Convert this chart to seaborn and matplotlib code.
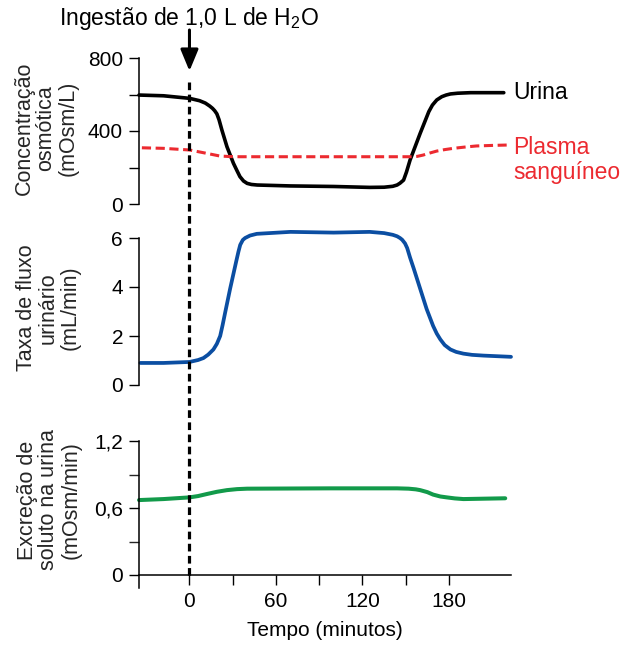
import matplotlib
matplotlib.use('Agg')
import matplotlib.pyplot as plt
import matplotlib.transforms as mtransforms
from matplotlib.lines import Line2D
import seaborn as sns

# --- dados ---
t_urina = [-35, -18, 0, 7, 11, 14, 16, 17.5, 19, 20.5, 22.5, 26, 30.5, 33, 35, 37.5, 40, 43, 47, 70,
           100, 125, 135, 141, 144, 146, 148.5, 150.5, 153, 160, 166, 168.5, 171.5, 175, 178, 181,
           186, 195, 218]
urina = [597, 593, 579, 566, 553, 537, 524, 511, 494, 462, 405, 314, 223, 182, 150, 126, 113, 107,
         104, 99, 96, 91, 92, 97, 104, 114, 131, 175, 241, 387, 506, 542, 570, 588, 597, 603,
         607, 610, 610]

t_plasma = [-33, -18, 0, 9.7, 16, 21, 28, 35, 70, 125, 153, 158, 162, 167, 171.5, 177, 183, 191,
            199, 210, 220]
plasma = [308, 305, 296, 281, 271, 263, 260, 259, 259, 259, 259, 261, 268, 280, 290, 298, 305,
          312, 318, 321, 323]

t_fluxo = [-34, -18, 0, 6, 9.7, 13, 16.6, 19, 21.3, 23, 24.8, 28.2, 32.4, 34, 35.2, 37, 38.6, 42,
           46.7, 70, 100, 125, 135, 141, 144, 146, 147.5, 149.5, 151, 153, 155.5, 160, 164.5, 169,
           171.5, 174, 177, 181, 185, 190, 196, 204, 223]
fluxo = [0.90, 0.90, 0.94, 1.02, 1.10, 1.24, 1.45, 1.68, 2.0, 2.45, 2.97, 3.93, 5.04, 5.45, 5.72,
         5.92, 6.0, 6.1, 6.17, 6.25, 6.22, 6.25, 6.2, 6.13, 6.07, 6.0, 5.93, 5.78, 5.59, 5.2, 4.76,
         3.93, 3.10, 2.41, 2.1, 1.86, 1.63, 1.45, 1.35, 1.28, 1.23, 1.20, 1.15]

t_soluto = [-35, -18, 0, 6, 12, 19, 26, 33, 40, 98, 144, 152, 157, 160, 165, 169, 174, 178.5, 184,
            190, 219]
soluto = [0.671, 0.68, 0.695, 0.707, 0.725, 0.745, 0.76, 0.769, 0.773, 0.776, 0.776, 0.773, 0.767,
          0.76, 0.742, 0.72, 0.703, 0.695, 0.686, 0.68, 0.687]

x_ticks = [0, 30, 60, 90, 120, 150, 180]
x_labels = ['0', '', '60', '', '120', '', '180']

# --- estilo ---
sns.set_theme(style='white')
plt.rcParams['font.family'] = ['Liberation Sans', 'DejaVu Sans']
plt.rcParams['mathtext.default'] = 'regular'

cor_urina = 'black'
cor_plasma = '#EC2A30'
cor_fluxo = '#0B4EA2'
cor_soluto = '#129A4A'

W, H = 623, 646
fig = plt.figure(figsize=(W / 100, H / 100), dpi=100)

def px_axes(left, right, top, bottom):
    return fig.add_axes([left / W, 1 - bottom / H, (right - left) / W, (bottom - top) / H])

ax1 = px_axes(139, 511, 58, 204)
ax2 = px_axes(139, 511, 238, 385)
ax3 = px_axes(139, 511, 441, 588.4)

for ax in (ax1, ax2, ax3):
    ax.set_xlim(-35, 223)
    ax.set_facecolor('none')
    for s in ('top', 'right'):
        ax.spines[s].set_visible(False)
    ax.spines['left'].set_color('black')
    ax.spines['left'].set_linewidth(1.1)
    ax.tick_params(axis='y', direction='out', length=7.5, width=1.0, pad=4,
                   labelsize=15, colors='black', left=True)
    ax.set_xlabel('')
    ax.set_ylabel('')

# painel 1: concentracao osmotica
sns.lineplot(x=t_urina, y=urina, ax=ax1, color=cor_urina, lw=2.6, clip_on=False)
sns.lineplot(x=t_plasma, y=plasma, ax=ax1, color=cor_plasma, lw=2.2, ls=(0, (3.0, 1.5)), clip_on=False)
ax1.set_ylim(0, 800)
ax1.set_yticks([0, 200, 400, 600, 800], ['0', '', '400', '', '800'])
ax1.spines['bottom'].set_visible(False)
ax1.set_xticks([])
ax1.text(224.5, 612, 'Urina', fontsize=16.5, color='black', va='center', ha='left', clip_on=False)
ax1.text(224.5, 243, 'Plasma\nsanguíneo', fontsize=16.5, color=cor_plasma, va='center', ha='left',
         linespacing=1.1, clip_on=False)

# painel 2: fluxo urinario
sns.lineplot(x=t_fluxo, y=fluxo, ax=ax2, color=cor_fluxo, lw=2.7, clip_on=False)
ax2.set_ylim(0, 6)
ax2.set_yticks([0, 2, 4, 6], ['0', '2', '4', '6'])
ax2.spines['bottom'].set_visible(False)
ax2.set_xticks([])

# painel 3: excrecao de soluto
sns.lineplot(x=t_soluto, y=soluto, ax=ax3, color=cor_soluto, lw=2.9, clip_on=False)
ax3.set_ylim(-0.12, 1.2)
ax3.set_yticks([0, 0.6, 1.2], ['0', '0,6', '1,2'])
ax3.set_yticks([0.3, 0.9], minor=True)
ax3.tick_params(axis='y', which='minor', direction='out', length=7.5, width=1.0, left=True)
ax3.spines['bottom'].set_position(('data', 0))
ax3.spines['bottom'].set_color('black')
ax3.spines['bottom'].set_linewidth(1.1)
ax3.set_xticks(x_ticks, x_labels)
ax3.tick_params(axis='x', direction='out', length=7.5, width=1.0, pad=5,
                labelsize=15, colors='black', bottom=True)
ax3.set_xlabel('Tempo (minutos)', fontsize=15, color='black', labelpad=7)

# rotulos dos eixos y
lab_kw = dict(rotation=90, ha='center', va='center', multialignment='center',
              fontsize=15.5, linespacing=1.05)
fig.text(46 / W, 1 - 128 / H, 'Concentração\nosmótica\n(mOsm/L)', **lab_kw)
fig.text(48 / W, 1 - 308 / H, 'Taxa de fluxo\nurinário\n(mL/min)', **lab_kw)
fig.text(49 / W, 1 - 500 / H, 'Excreção de\nsoluto na urina\n(mOsm/min)', **lab_kw)

# linha tracejada da ingestao e seta
trans = mtransforms.blended_transform_factory(ax3.transData, fig.transFigure)
fig.add_artist(Line2D([0, 0], [1 - 82 / H, 1 - 577 / H], transform=trans, color='black',
                      lw=2.3, ls=(0, (2.4, 1.4))))
ax1.annotate('', xy=(0, 1 - 71 / H), xytext=(0, 1 - 30 / H),
             xycoords=('data', 'figure fraction'), textcoords=('data', 'figure fraction'),
             arrowprops=dict(arrowstyle='-|>,head_length=0.65,head_width=0.27', color='black',
                             lw=2.2, shrinkA=0, shrinkB=0, mutation_scale=20))
fig.text(0, 1 - 18 / H, 'Ingestão de 1,0 L de H$_2$O', transform=trans, ha='center',
         va='center', fontsize=16.5, color='black')

fig.savefig('out.png', dpi=100)
